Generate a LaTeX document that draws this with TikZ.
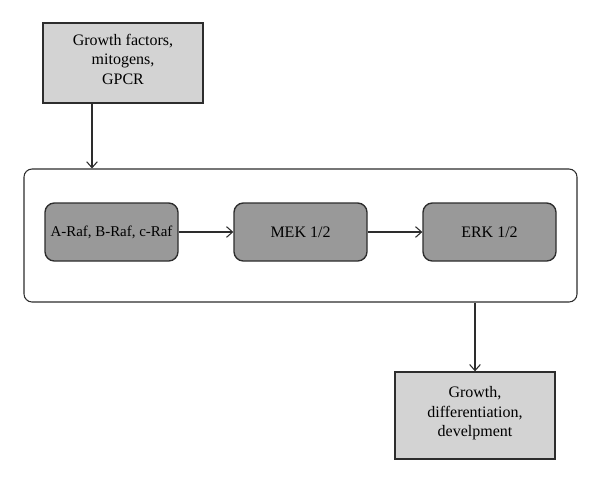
\documentclass[tikz,border=0pt]{standalone}
\usepackage{fontspec}
\setmainfont{Liberation Serif}
\usetikzlibrary{arrows.meta}
\usepackage{xcolor}
\definecolor{inputgray}{RGB}{211, 211, 211}
\definecolor{kinasegray}{RGB}{153, 153, 153}
\definecolor{edgegray}{RGB}{45, 45, 45}

\tikzset{
  signalbox/.style={draw=edgegray, line width=1pt, fill=inputgray, align=center,
    inner sep=0pt, minimum width=120pt, font=\fontsize{12}{14.6}\selectfont},
  kinase/.style={draw=edgegray, line width=1pt, fill=kinasegray, rounded corners=7pt,
    minimum width=99.75pt, minimum height=43.5pt, inner sep=0pt,
    font=\fontsize{12}{14.6}\selectfont},
  link/.style={->, edgegray, line width=0.8pt}
}

\begin{document}
\begin{tikzpicture}[x=0.75pt, y=-0.75pt, >={Straight Barb[length=4.5pt, width=8pt]}]
    \useasboundingbox (0,0) rectangle (600,483);
    \node[signalbox, minimum height=60pt, text depth=6pt] (stimuli) at (123, 63) {Growth factors,\\mitogens,\\GPCR};
    \node[draw=edgegray, line width=0.8pt, rounded corners=6pt, minimum width=414.75pt,
      minimum height=99.75pt] (cascade) at (300.5, 235.5) {};
    \node[kinase, font=\fontsize{11.2}{14}\selectfont] (raf) at (111.5, 232) {A-Raf, B-Raf, c-Raf};
    \node[kinase] (mek) at (300.5, 232) {MEK 1/2};
    \node[kinase] (erk) at (489.5, 232) {ERK 1/2};
    \node[signalbox, minimum height=65.25pt, text depth=6pt] (response) at (475, 415.5) {Growth,\\differentiation,\\develpment};
    \coordinate (entry) at (92, 0);
    \draw[link] (entry |- stimuli.south) -- (entry |- cascade.north);
    \draw[link] (raf) -- (mek);
    \draw[link] (mek) -- (erk);
    \draw[link] (response.north |- cascade.south) -- (response.north);
  \end{tikzpicture}
\end{document}
